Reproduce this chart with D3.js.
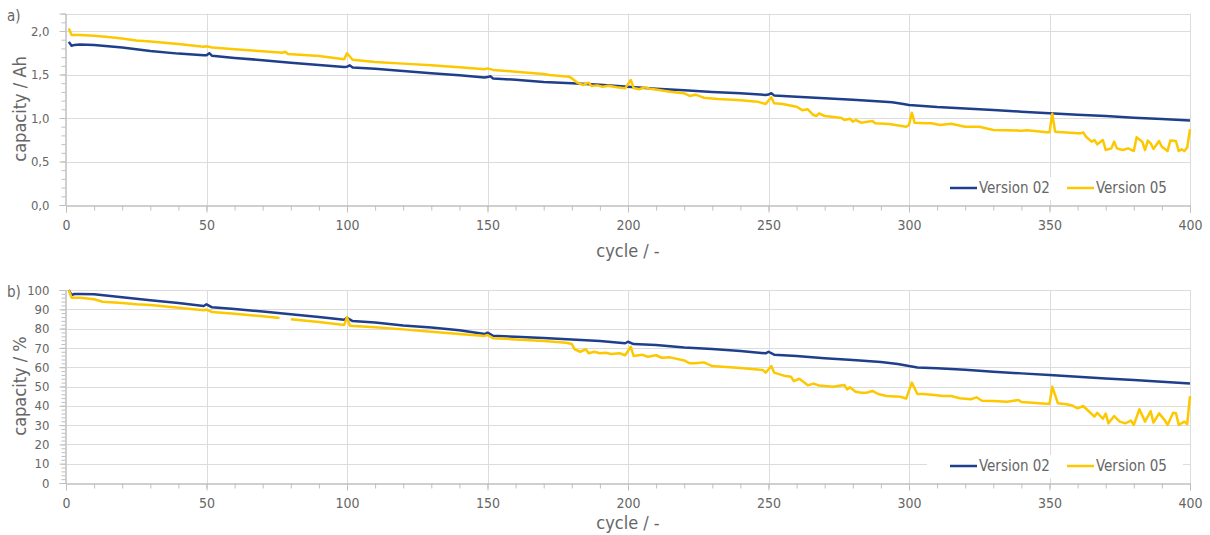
<!DOCTYPE html>
<html>
<head>
<meta charset="utf-8">
<script src="https://cdn.jsdelivr.net/npm/d3@7"></script>
<style>
  body { margin: 0; background: #fff; }
  text { font-family: 'DejaVu Sans Condensed', 'DejaVu Sans', sans-serif; font-stretch: condensed; fill: #666; }
</style>
</head>
<body>
<script>
// capacity in Ah (panel a)
var cycA02 = [1,2,3,5,10,20,30,40,49,50,51,52,60,70,80,90,99,100,101,102,110,120,130,140,149,150,151,152,160,170,180,190,200,210,220,230,240,249,250,251,252,260,270,280,290,294,298,300,310,320,330,340,350,360,370,380,390,400]
var capA02 = [1.875,1.83,1.84,1.845,1.84,1.81,1.77,1.74,1.72,1.72,1.745,1.715,1.69,1.665,1.635,1.61,1.585,1.59,1.605,1.58,1.565,1.54,1.515,1.49,1.465,1.47,1.48,1.455,1.44,1.415,1.40,1.383,1.36,1.337,1.32,1.30,1.285,1.265,1.27,1.285,1.26,1.245,1.226,1.21,1.19,1.18,1.16,1.15,1.126,1.11,1.092,1.073,1.054,1.038,1.023,1.004,0.988,0.97]

var cycA05 = [1,2,5,10,15,20,25,30,40,49,50,52,60,70,77,78,79,90,99,100,102,110,120,130,140,149,150,152,160,170,172,179,180,182,184,186,187,189,191,193,196,199,201,202,204,206,208,211,215,218,220,222,224,226,227,232,239,246,249,251,252,255,260,262,264,266,267,268,270,274,276,277,279,280,281,283,287,288,293,299,300,301,302,306,308,311,315,320,325,330,340,342,349,350,351,352,360,361,362,363,365,366,367,369,370,372,373,374,376,378,380,381,383,384,385,386,387,389,390,392,393,395,396,397,398,399,400]
var capA05 = [2.03,1.955,1.955,1.946,1.93,1.915,1.89,1.88,1.85,1.82,1.825,1.81,1.79,1.767,1.75,1.762,1.735,1.713,1.675,1.744,1.67,1.644,1.625,1.605,1.583,1.56,1.57,1.553,1.533,1.506,1.494,1.475,1.456,1.406,1.379,1.406,1.368,1.375,1.36,1.37,1.353,1.341,1.437,1.345,1.33,1.353,1.335,1.322,1.302,1.291,1.284,1.253,1.268,1.245,1.233,1.218,1.207,1.188,1.161,1.238,1.169,1.16,1.13,1.09,1.10,1.034,1.023,1.054,1.023,1.008,1.0,0.977,0.992,0.958,0.977,0.946,0.965,0.939,0.931,0.90,0.92,1.061,0.946,0.94,0.939,0.92,0.935,0.90,0.90,0.862,0.854,0.86,0.835,0.835,1.05,0.843,0.824,0.824,0.835,0.785,0.728,0.747,0.697,0.747,0.632,0.651,0.728,0.651,0.632,0.651,0.62,0.778,0.728,0.632,0.74,0.709,0.644,0.736,0.67,0.62,0.74,0.736,0.62,0.64,0.62,0.66,0.87]

// capacity in % (panel b), null = missing point
var cycB02 = [1,2,3,5,10,20,30,40,49,50,52,60,70,80,90,99,100,102,110,120,130,140,149,150,152,160,170,180,190,199,200,202,210,220,230,240,249,250,252,260,270,280,290,296,300,303,310,320,330,340,350,360,370,380,390,400]
var pctB02 = [100,97.4,97.9,97.9,97.8,96.2,94.7,93.3,91.7,92.6,91.0,90.2,88.8,87.4,86.0,84.6,85.6,83.9,83.1,81.6,80.6,79.2,77.2,77.9,76.3,75.8,75.1,74.4,73.6,72.4,73.2,72.0,71.5,70.2,69.4,68.4,67.2,68.0,66.5,65.8,64.6,63.7,62.7,61.7,60.6,59.9,59.4,58.7,57.7,56.8,56.0,55.1,54.2,53.4,52.5,51.5]

var cycB05 = [1,2,5,10,13,20,25,30,40,49,50,52,60,70,76,78,80,90,99,100,101,110,120,130,140,149,150,152,160,170,178,180,181,183,185,186,188,190,192,194,197,199,201,202,205,207,210,212,215,220,222,224,227,230,240,248,249,251,252,256,258,259,261,264,266,268,270,273,277,278,279,281,283,285,287,289,292,297,299,301,303,305,309,312,315,318,322,324,326,330,335,339,340,344,350,351,353,356,358,360,362,366,367,369,370,371,373,375,377,379,380,382,384,386,387,389,391,392,394,395,396,398,399,400]
var pctB05 = [100,96.0,96.0,95.2,93.9,93.3,92.6,92.2,90.8,89.5,89.8,88.6,87.7,86.4,85.5,null,84.8,83.4,81.9,85.9,81.5,80.7,79.6,78.4,77.2,76.2,76.7,75.0,74.4,73.6,72.7,72.0,69.3,68.0,69.3,67.2,68.0,67.2,67.5,66.8,67.2,66.2,70.6,65.8,66.5,65.4,66.2,64.9,65.1,63.5,62.0,62.0,62.5,60.6,59.6,58.5,57.2,60.6,57.2,55.4,55.1,52.8,54.0,50.6,51.5,50.5,50.3,49.9,50.8,48.5,49.6,47.3,46.8,46.8,47.7,46.1,45.1,44.7,43.7,52.0,46.1,46.1,45.6,45.1,45.1,43.9,43.4,44.4,42.6,42.5,42.1,43.0,42.0,41.6,40.9,49.9,41.3,40.8,40.2,38.7,39.9,34.4,36.4,33.3,36.0,30.9,34.7,31.8,30.9,32.3,30.1,38.2,31.8,37.2,31.3,36.1,32.6,30.1,36.4,36.2,30.1,31.8,30.5,45.0]

var seriesNames = ["Version 02", "Version 05"]
var seriesColors = ["#1f3e8c", "#fdc800"]

var width = 1210, height = 535
var gridColor = "#dcdcdc", axisColor = "#bfbfbf"

var svg = d3.select("body")
.append("svg")
.attr("width", width)
.attr("height", height)

var x = d3.scaleLinear().domain([0, 400]).range([66, 1190])

function comma(f) {
	return function(d) { return d3.format(f)(d).replace(".", ",") }
}

function drawPanel(opts) {
	var y = d3.scaleLinear().domain(opts.domain).range([opts.bottom, opts.top])
	var g = svg.append("g")

	//horizontal grid
	g.selectAll(".hgrid")
	.data(opts.gridY)
	.enter()
	.append("line")
	.attr("x1", x(0)).attr("x2", x(400))
	.attr("y1", function(d) { return Math.round(y(d)) + 0.5 })
	.attr("y2", function(d) { return Math.round(y(d)) + 0.5 })
	.attr("stroke", gridColor)

	//vertical grid
	g.selectAll(".vgrid")
	.data(d3.range(50, 401, 50))
	.enter()
	.append("line")
	.attr("x1", function(d) { return Math.round(x(d)) + 0.5 })
	.attr("x2", function(d) { return Math.round(x(d)) + 0.5 })
	.attr("y1", y(opts.domain[1])).attr("y2", opts.bottom)
	.attr("stroke", gridColor)

	//x axis: minor ticks every 10, labels every 50
	var xAxis = g.append("g").attr("transform", "translate(0," + (opts.bottom + 0.5) + ")")
	xAxis.call(d3.axisBottom(x).tickValues(d3.range(0, 401, 10)).tickSize(5).tickFormat(""))
	var xMajor = g.append("g").attr("transform", "translate(0," + (opts.bottom + 0.5) + ")")
	xMajor.call(d3.axisBottom(x).tickValues(d3.range(0, 401, 50)).tickSize(7).tickPadding(8))
	xMajor.attr("font-family", null).attr("font-size", null)
	xMajor.selectAll("text").attr("font-size", 14)
	xAxis.selectAll("path,line").attr("stroke", axisColor)
	xMajor.selectAll("path,line").attr("stroke", axisColor)

	//y axis
	var yAxis = g.append("g").attr("transform", "translate(" + (x(0) - 0.5) + ",0)")
	yAxis.call(d3.axisLeft(y).tickValues(opts.minorY).tickSize(4).tickFormat(""))
	var yMajor = g.append("g").attr("transform", "translate(" + (x(0) - 0.5) + ",0)")
	yMajor.call(d3.axisLeft(y).tickValues(opts.majorY).tickSize(6).tickPadding(10).tickFormat(opts.fmt))
	yMajor.attr("font-family", null).attr("font-size", null)
	yMajor.selectAll("text").attr("font-size", 13)
	yAxis.selectAll("path,line").attr("stroke", axisColor)
	yMajor.selectAll("path,line").attr("stroke", axisColor)

	//lines
	opts.series.forEach(function(s, i) {
		var pts = s.cyc.map(function(c, j) { return { c: c, v: s.val[j] } })
		var line = d3.line()
		.defined(function(d) { return d.v !== null })
		.x(function(d) { return x(d.c) })
		.y(function(d) { return y(d.v) })
		g.append("path")
		.datum(pts)
		.attr("d", line)
		.attr("fill", "none")
		.attr("stroke", seriesColors[i])
		.attr("stroke-width", 2.5)
		.attr("stroke-linejoin", "round")
	})

	//legend with white background
	var lg = g.append("g").attr("transform", "translate(0," + opts.legendY + ")")
	lg.append("rect").attr("x", 927).attr("y", -11).attr("width", 256).attr("height", 23).attr("fill", "#fff")
	seriesNames.forEach(function(n, i) {
		var lx = i == 0 ? 950 : 1067
		lg.append("line").attr("x1", lx).attr("x2", lx + 27).attr("y1", 0).attr("y2", 0)
		.attr("stroke", seriesColors[i]).attr("stroke-width", 2.5)
		lg.append("text").attr("x", lx + 29).attr("y", 0).attr("dy", "0.35em")
		.attr("font-size", 15).text(n)
	})

	//titles
	g.append("text")
	.attr("x", (x(0) + x(400)) / 2).attr("y", opts.xTitleY)
	.attr("dy", "0.35em").attr("text-anchor", "middle")
	.attr("font-size", 18).text("cycle / -")
	g.append("text")
	.attr("transform", "translate(20," + opts.titleY + ") rotate(-90)")
	.attr("dy", "0.35em").attr("text-anchor", "middle")
	.attr("font-size", 18).text(opts.yTitle)
	g.append("text")
	.attr("x", 7).attr("y", opts.top + 2).attr("dy", "0.35em")
	.attr("font-size", 15).text(opts.tag)
}

drawPanel({
	tag: "a)", top: 13.6, bottom: 205, domain: [0, 2.2],
	gridY: [0.5, 1.0, 1.5, 2.0, 2.2],
	majorY: [0, 0.5, 1.0, 1.5, 2.0], minorY: d3.range(0, 22).map(function(d) { return d / 10 }),
	fmt: comma(".1f"), yTitle: "capacity / Ah", titleY: 109, xTitleY: 251, legendY: 188,
	series: [{ cyc: cycA02, val: capA02 }, { cyc: cycA05, val: capA05 }]
})

drawPanel({
	tag: "b)", top: 290, bottom: 483, domain: [0, 100],
	gridY: d3.range(10, 101, 10),
	majorY: d3.range(0, 101, 10), minorY: d3.range(0, 101, 2),
	fmt: d3.format("d"), yTitle: "capacity / %", titleY: 386, xTitleY: 523, legendY: 466,
	series: [{ cyc: cycB02, val: pctB02 }, { cyc: cycB05, val: pctB05 }]
})
</script>
</body>
</html>
